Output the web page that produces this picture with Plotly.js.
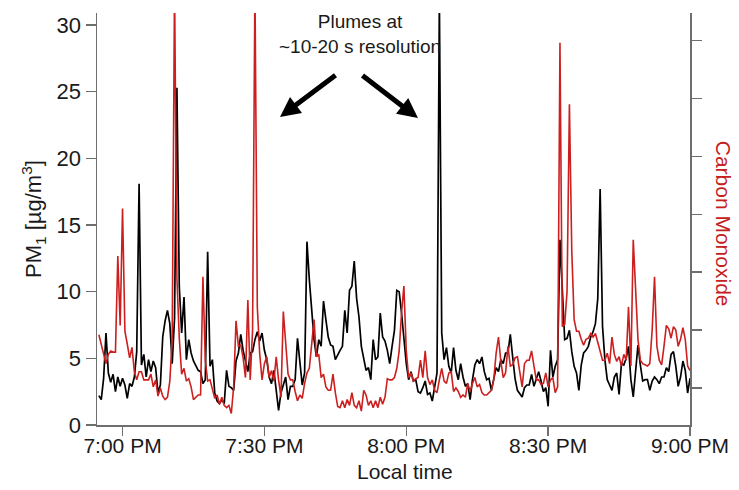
<!DOCTYPE html>
<html>
<head>
<meta charset="utf-8">
<script src="https://cdn.plot.ly/plotly-3.0.1.min.js"></script>
<style>html,body{margin:0;padding:0;background:#fff;}#chart{width:739px;height:490px;}</style>
</head>
<body>
<div id="chart"></div>
<script>
// Sampling: 30 s steps starting 6:55:00 PM local time
const startClock = '18:55:00';
const stepSeconds = 30;

// PM1 [µg/m3] (black, left axis)
const pm1 = [
  2.2, 1.9, 3.5, 6.9, 3.9, 3.2, 3.8, 2.5, 3.6, 2.9,
  3.5, 3.0, 2.0, 3.1, 2.9, 3.6, 5.5, 18.1, 4.5, 5.3,
  3.6, 4.9, 4.0, 4.8, 4.3, 2.4, 3.0, 6.6, 7.8, 8.6,
  7.6, 4.6, 8.0, 25.3, 10.4, 6.9, 9.6, 4.9, 6.4, 5.4,
  4.8, 4.4, 4.1, 4.0, 3.1, 3.4, 13.0, 4.4, 4.9, 2.4,
  1.8, 1.6, 1.9, 1.6, 4.1, 2.9, 2.8, 2.6, 4.8, 5.4,
  6.8, 5.6, 4.8, 4.0, 5.4, 5.5, 6.4, 7.0, 6.3, 6.9,
  5.6, 4.9, 3.6, 3.1, 4.1, 2.8, 1.1, 2.4, 3.1, 3.6,
  1.9, 2.9, 2.9, 3.4, 6.5, 4.9, 3.0, 3.9, 13.75, 10.9,
  8.4, 6.4, 5.1, 6.4, 5.9, 9.3, 7.9, 6.6, 6.0, 5.9,
  4.9, 5.3, 5.6, 5.9, 8.6, 6.9, 10.1, 10.4, 12.3, 9.5,
  8.1, 5.9, 4.9, 4.1, 4.3, 3.4, 6.4, 4.9, 5.1, 8.4,
  6.6, 6.3, 5.6, 4.6, 5.9, 7.1, 10.1, 10.0, 8.4, 6.6,
  4.6, 3.4, 4.0, 3.3, 3.4, 2.5, 2.4, 2.8, 3.3, 2.3,
  2.4, 1.8, 2.8, 3.9, 32.0, 6.9, 4.9, 5.8, 4.4, 3.9,
  5.8, 4.1, 3.4, 4.6, 3.6, 2.9, 3.1, 1.9, 3.4, 4.5,
  4.9, 4.6, 5.1, 4.0, 3.4, 3.5, 2.6, 3.4, 4.3, 4.0,
  4.9, 4.6, 5.4, 5.4, 6.8, 5.1, 3.5, 2.6, 2.3, 2.1,
  2.8, 3.0, 3.0, 3.8, 2.9, 3.4, 4.0, 3.3, 2.5, 2.8,
  1.4, 5.6, 3.6, 4.4, 4.9, 13.9, 9.6, 6.4, 6.5, 7.1,
  5.5, 4.4, 3.9, 2.6, 4.5, 5.4, 5.6, 5.9, 6.6, 7.0,
  7.6, 9.5, 17.7, 7.4, 4.9, 3.4, 3.0, 2.6, 3.6, 3.9,
  2.3, 4.6, 4.5, 5.0, 5.9, 3.4, 2.1, 4.4, 6.0, 4.5,
  3.3, 3.4, 3.4, 2.6, 3.3, 3.6, 3.4, 3.1, 3.6, 3.6,
  4.3, 4.0, 5.3, 5.5, 4.4, 2.9, 3.6, 4.8, 4.1, 2.4,
  3.5
];

// Carbon monoxide [ppb] (red, right axis, no tick labels)
const carbonMonoxide = [
  146, 138, 130, 121, 129, 132, 131, 131, 214, 154,
  255, 149, 138, 126, 135, 114, 107, 114, 114, 107,
  107, 107, 112, 101, 107, 93, 100, 93, 90, 92,
  106, 142, 448, 195, 143, 112, 117, 106, 108, 101,
  90, 92, 94, 94, 196, 124, 106, 107, 100, 91,
  94, 86, 92, 85, 83, 85, 78, 101, 158, 136,
  137, 126, 109, 176, 107, 150, 448, 170, 130, 107,
  121, 127, 109, 115, 106, 127, 107, 92, 166, 138,
  112, 107, 107, 97, 89, 94, 91, 104, 113, 117,
  136, 159, 127, 129, 109, 112, 101, 98, 98, 112,
  96, 84, 83, 89, 83, 90, 85, 96, 85, 83,
  89, 80, 98, 94, 85, 89, 83, 89, 83, 92,
  86, 92, 108, 107, 107, 109, 117, 132, 165, 188,
  132, 109, 113, 106, 108, 109, 124, 109, 132, 109,
  103, 107, 98, 96, 107, 117, 106, 104, 113, 114,
  97, 100, 97, 92, 94, 92, 104, 97, 104, 109,
  101, 103, 96, 94, 94, 96, 98, 107, 130, 144,
  123, 109, 113, 136, 119, 120, 126, 127, 113, 101,
  121, 124, 124, 132, 119, 107, 107, 103, 104, 113,
  101, 107, 109, 96, 101, 398, 153, 155, 183, 345,
  218, 159, 149, 149, 142, 137, 142, 143, 147, 144,
  147, 140, 131, 124, 124, 130, 121, 144, 129, 123,
  127, 119, 129, 124, 170, 119, 228, 177, 142, 124,
  121, 120, 119, 121, 150, 196, 136, 124, 120, 136,
  154, 151, 143, 153, 150, 136, 142, 152, 142, 119,
  115
];

const tickTimes = ['19:00:00', '19:30:00', '20:00:00', '20:30:00', '21:00:00'];
const tickLabels = ['7:00 PM', '7:30 PM', '8:00 PM', '8:30 PM', '9:00 PM'];
const pmTicks = [0, 5, 10, 15, 20, 25, 30];
const coTicks = [100, 150, 200, 250, 300, 350, 400];

const day = '2020-01-01 ';
function pad(n) { return (n < 10 ? '0' : '') + n; }
function clockToSec(c) { const p = c.split(':').map(Number); return p[0] * 3600 + p[1] * 60 + p[2]; }
function stamp(sec) {
  return day + pad(Math.floor(sec / 3600)) + ':' + pad(Math.floor((sec % 3600) / 60)) + ':' + pad(sec % 60);
}
const startSec = clockToSec(startClock);
const times = pm1.map((_, i) => stamp(startSec + i * stepSeconds));

const FONT = 'Liberation Sans, Arial, Helvetica, sans-serif';
const AX = '#6e6e6e';
const TXT = '#1a1a1a';

const traces = [
  {
    x: times, y: carbonMonoxide, yaxis: 'y2', type: 'scatter', mode: 'lines',
    line: { color: '#cc1f1f', width: 1.6 }, name: 'Carbon Monoxide', hoverinfo: 'x+y'
  },
  {
    x: times, y: pm1, yaxis: 'y', type: 'scatter', mode: 'lines',
    line: { color: '#000000', width: 1.7 }, name: 'PM1', hoverinfo: 'x+y'
  }
];

const layout = {
  width: 739, height: 490,
  margin: { l: 97, r: 49, t: 13, b: 65 },
  paper_bgcolor: '#ffffff', plot_bgcolor: '#ffffff',
  showlegend: false,
  font: { family: FONT, size: 21, color: TXT },
  xaxis: {
    type: 'date',
    range: [day + '18:54:36', day + '21:00:00'],
    tickvals: tickTimes.map(t => day + t), ticktext: tickLabels,
    ticks: 'outside', ticklen: 9, tickwidth: 1.3, tickcolor: AX,
    ticklabelstandoff: -8,
    showline: true, linecolor: AX, linewidth: 1.5,
    showgrid: false, zeroline: false,
    tickfont: { family: FONT, size: 21, color: TXT }
  },
  yaxis: {
    range: [0, 30.9],
    tickvals: pmTicks,
    ticks: 'outside', ticklen: 10, tickwidth: 1.3, tickcolor: AX,
    showline: true, linecolor: AX, linewidth: 1.5,
    showgrid: false, zeroline: false,
    tickfont: { family: FONT, size: 22, color: TXT }
  },
  yaxis2: {
    overlaying: 'y', side: 'right',
    range: [68.06, 423.7],
    tickvals: coTicks, showticklabels: false,
    ticks: 'outside', ticklen: 10, tickwidth: 1.3, tickcolor: AX,
    showline: true, linecolor: AX, linewidth: 1.5,
    showgrid: false, zeroline: false
  },
  annotations: [
    {
      xref: 'paper', yref: 'paper', x: -0.108, y: 0.5, xanchor: 'center', yanchor: 'middle', textangle: -90,
      text: 'PM<sub>1</sub> [µg/m<sup>3</sup>]', showarrow: false,
      font: { family: FONT, size: 22, color: TXT }
    },
    {
      xref: 'paper', yref: 'paper', x: 1.056, y: 0.488, xanchor: 'center', yanchor: 'middle', textangle: 90,
      text: 'Carbon Monoxide', showarrow: false,
      font: { family: FONT, size: 21, color: '#c42020' }
    },
    {
      xref: 'paper', yref: 'paper', x: 0.519, y: -0.112, xanchor: 'center', yanchor: 'middle',
      text: 'Local time', showarrow: false,
      font: { family: FONT, size: 21, color: TXT }
    },
    {
      xref: 'paper', yref: 'paper', x: 0.4435, y: 0.95, xanchor: 'center', yanchor: 'middle',
      text: 'Plumes at<br>~10-20 s resolution', showarrow: false,
      font: { family: FONT, size: 19, color: TXT }
    },
    {
      xref: 'paper', yref: 'paper', x: 0.3086, y: 0.7476, ax: 60, ay: -45,
      text: ' ', showarrow: true, arrowhead: 2, arrowsize: 0.8, arrowwidth: 5, arrowcolor: '#000'
    },
    {
      xref: 'paper', yref: 'paper', x: 0.5413, y: 0.745, ax: -60, ay: -46,
      text: ' ', showarrow: true, arrowhead: 2, arrowsize: 0.8, arrowwidth: 5, arrowcolor: '#000'
    }
  ]
};

Plotly.newPlot('chart', traces, layout, { displayModeBar: false, staticPlot: true });
</script>
</body>
</html>
